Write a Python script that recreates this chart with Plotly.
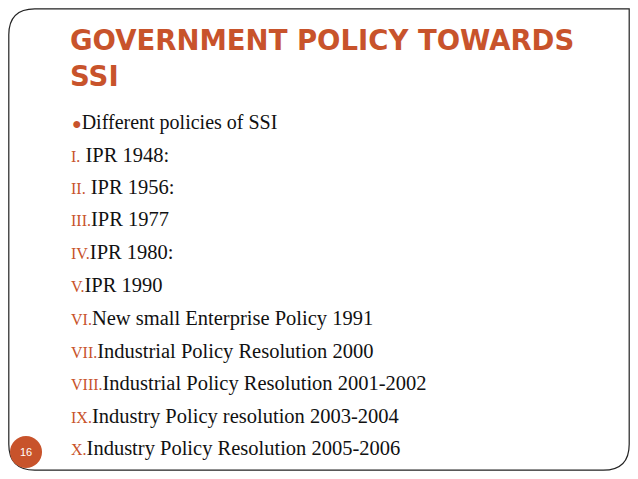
import plotly.graph_objects as go

title_lines = ["GOVERNMENT POLICY TOWARDS", "SSI"]
bullet_text = "Different policies of SSI"
numerals = ["I.", "II.", "III.", "IV.", "V.", "VI.", "VII.", "VIII.", "IX.", "X."]
items = ["IPR 1948:", "IPR 1956:", "IPR 1977", "IPR 1980:", "IPR 1990",
         "New small Enterprise Policy 1991", "Industrial Policy Resolution 2000",
         "Industrial Policy Resolution 2001-2002", "Industry Policy resolution 2003-2004",
         "Industry Policy Resolution 2005-2006"]
item_y = [155, 187, 219, 252, 285, 318, 351, 383, 416, 448]
slide_no = "16"

ORANGE = "#C8532B"
OFF = 8  # page body margin
W, H = 638 - 2 * OFF, 479 - 2 * OFF

fig = go.Figure()

# rounded slide frame
r = 26
x0, y0, x1, y1 = 8.8, 8.8, 629.2, 470.2
path = (f"M {x0+r},{y0} L {x1},{y0} L {x1},{y1-r} Q {x1},{y1} {x1-r},{y1} "
        f"L {x0+r},{y1} Q {x0},{y1} {x0},{y1-r} L {x0},{y0+r} Q {x0},{y0} {x0+r},{y0} Z")
fig.add_shape(type="path", path=path, line=dict(color="#222", width=1.2), layer="below")

for i, t in enumerate(title_lines):
    fig.add_annotation(x=68, y=40 + i * 36, text=t, showarrow=False, xanchor="left",
                       yanchor="middle",
                       font=dict(family="DejaVu Sans", size=27.5, color=ORANGE, weight="bold"))

fig.add_annotation(x=70, y=122, xanchor="left", yanchor="middle", showarrow=False,
                   text=f"<span style='color:{ORANGE};font-size:16px'>●</span>{bullet_text}",
                   font=dict(family="Liberation Serif", size=20, color="#111"))

for n, t, y in zip(numerals, items, item_y):
    sep = " " if n in ("I.", "II.") else ""
    fig.add_annotation(x=69, y=y, xanchor="left", yanchor="middle", showarrow=False,
                       text=f"<span style='color:{ORANGE};font-size:16px'>{n}</span>{sep}{t}",
                       font=dict(family="Liberation Serif", size=20.5, color="#111"))

fig.add_shape(type="circle", x0=10, y0=436, x1=42, y1=468, fillcolor=ORANGE, line_width=0)
fig.add_annotation(x=26, y=452, text=slide_no, showarrow=False,
                   font=dict(family="Liberation Sans", size=11, color="white"))

fig.update_xaxes(range=[OFF, 638 - OFF], visible=False, fixedrange=True)
fig.update_yaxes(range=[479 - OFF, OFF], visible=False, fixedrange=True)
fig.update_layout(width=W, height=H, margin=dict(l=0, r=0, t=0, b=0),
                  paper_bgcolor="white", plot_bgcolor="white", showlegend=False)
fig.write_html("out.html")
